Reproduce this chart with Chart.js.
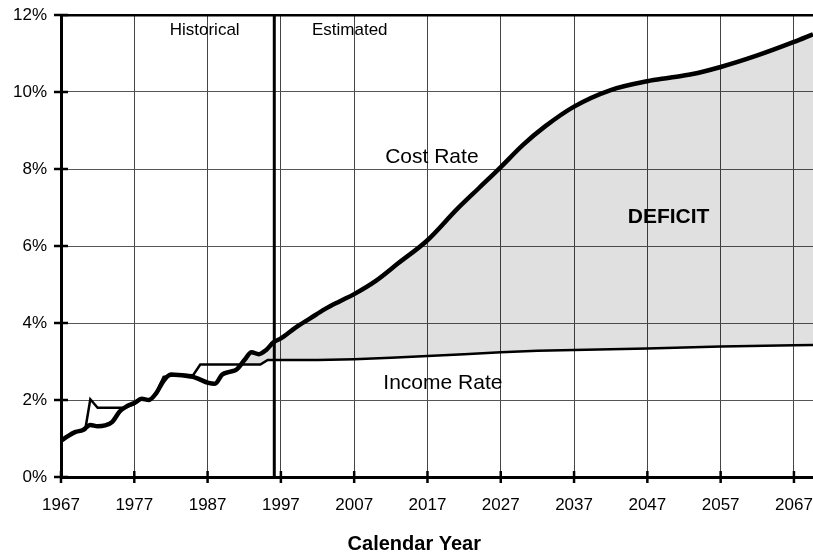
<!DOCTYPE html>
<html lang="en">
<head>
<meta charset="UTF-8" />
<title>Cost Rate and Income Rate</title>
<script src="https://cdn.jsdelivr.net/npm/chart.js@4.4.1/dist/chart.umd.min.js"></script>
<style>
  body { margin: 0; background: #fff; }
  #wrap { width: 813px; height: 554px; }
</style>
</head>
<body>
<div id="wrap"><canvas id="chart" width="813" height="554"></canvas></div>

<script>
// cost rate (thick line), % of taxable payroll
const costYears = [1967, 1968, 1969, 1970, 1971, 1972, 1973, 1974, 1975, 1976,
  1977, 1978, 1979, 1980, 1981, 1982, 1983, 1984, 1985, 1986,
  1987, 1988, 1989, 1990, 1991, 1992, 1993, 1994, 1995, 1996,
  1997, 1999, 2001, 2003, 2005, 2007, 2010, 2013, 2017, 2021,
  2024, 2027, 2030, 2033, 2037, 2042, 2047, 2050, 2053, 2057,
  2062, 2067, 2069.6];
const costRates = [0.94, 1.07, 1.17, 1.22, 1.35, 1.32, 1.34, 1.43, 1.70, 1.84,
  1.92, 2.03, 2.00, 2.18, 2.50, 2.66, 2.65, 2.63, 2.60, 2.53,
  2.45, 2.42, 2.66, 2.73, 2.80, 3.03, 3.24, 3.19, 3.30, 3.50,
  3.60, 3.88, 4.12, 4.36, 4.56, 4.75, 5.10, 5.55, 6.15, 6.95,
  7.50, 8.05, 8.62, 9.10, 9.62, 10.05, 10.28, 10.37, 10.46, 10.65,
  10.95, 11.30, 11.50];

// income rate (thin line)
const incomeYears = [1967, 1968, 1969, 1970.3, 1971, 1972, 1975.8, 1977, 1978, 1979,
  1980, 1981, 1983, 1985, 1986, 1994.2, 1995.2, 1997, 2002, 2007,
  2012, 2017, 2022, 2027, 2032, 2037, 2047, 2057, 2067, 2069.6];
const incomeRates = [0.94, 1.07, 1.17, 1.22, 2.02, 1.80, 1.80, 1.90, 2.03, 2.00,
  2.18, 2.60, 2.66, 2.64, 2.92, 2.92, 3.04, 3.04, 3.04, 3.06,
  3.10, 3.14, 3.19, 3.24, 3.28, 3.30, 3.34, 3.39, 3.42, 3.43];

const yearTicks = [1967, 1977, 1987, 1997, 2007, 2017, 2027, 2037, 2047, 2057, 2067];
const rateTicks = [0, 2, 4, 6, 8, 10, 12];
const dividerYear = 1996.1;

// text notes inside the plot, placed in data units
const noteTexts = ['Historical', 'Estimated', 'Cost Rate', 'Income Rate', 'DEFICIT'];
const noteYears = [1986.6, 2006.4, 2017.6, 2019.1, 2049.9];
const noteRates = [11.6, 11.6, 8.31, 2.44, 6.76];
const noteFonts = ['17px', '17px', '21px', '21px', 'bold 21px'];

const FONT = "'Liberation Sans', Arial, sans-serif";

const extras = {
  id: 'extras',
  afterDatasetsDraw(chart) {
    const ctx = chart.ctx;
    const a = chart.chartArea;
    const x = chart.scales.x;
    const y = chart.scales.y;
    ctx.save();
    ctx.strokeStyle = '#000';

    // historical / estimated divider
    const dx = x.getPixelForValue(dividerYear);
    ctx.lineWidth = 3;
    ctx.beginPath();
    ctx.moveTo(dx, a.top);
    ctx.lineTo(dx, a.bottom);
    ctx.stroke();

    // tick marks crossing the axes
    ctx.lineWidth = 2.5;
    yearTicks.forEach(v => {
      const px = x.getPixelForValue(v);
      ctx.beginPath();
      ctx.moveTo(px, a.bottom - 6);
      ctx.lineTo(px, a.bottom + 6);
      ctx.stroke();
    });
    rateTicks.forEach(v => {
      const py = y.getPixelForValue(v);
      ctx.beginPath();
      ctx.moveTo(a.left - 7, py);
      ctx.lineTo(a.left + 7, py);
      ctx.stroke();
    });

    ctx.fillStyle = '#000';
    ctx.textAlign = 'center';
    ctx.textBaseline = 'middle';
    noteTexts.forEach((t, i) => {
      ctx.font = noteFonts[i] + ' ' + FONT;
      ctx.fillText(t, x.getPixelForValue(noteYears[i]), y.getPixelForValue(noteRates[i]));
    });

    ctx.font = 'bold 20px ' + FONT;
    ctx.fillText('Calendar Year', x.getPixelForValue(2015.2), a.bottom + 67);
    ctx.restore();
  }
};

const ctx = document.getElementById('chart').getContext('2d');
new Chart(ctx, {
  type: 'line',
  data: {
    datasets: [{
      label: 'Cost Rate',
      data: costYears.map((v, i) => ({x: v, y: costRates[i]})),
      borderColor: '#000',
      borderWidth: 4.5,
      pointRadius: 0,
      cubicInterpolationMode: 'monotone',
      fill: {target: 1, above: 'rgba(0,0,0,0.12)', below: 'rgba(0,0,0,0)'}
    }, {
      label: 'Income Rate',
      data: incomeYears.map((v, i) => ({x: v, y: incomeRates[i]})),
      borderColor: '#000',
      borderWidth: 2.5,
      pointRadius: 0,
      tension: 0,
      fill: false
    }]
  },
  options: {
    responsive: false,
    animation: false,
    layout: {padding: {top: 15, right: 0, left: 0, bottom: 0}},
    plugins: {legend: {display: false}, tooltip: {enabled: false}},
    scales: {
      x: {
        type: 'linear',
        min: 1967,
        max: 2069.6,
        afterBuildTicks: s => { s.ticks = yearTicks.map(v => ({value: v})); },
        afterFit: s => { s.height = 77; s.paddingLeft = 0; s.paddingRight = 0; },
        ticks: {color: '#000', padding: 18, maxRotation: 0, callback: v => String(v),
          font: {family: FONT, size: 17}},
        grid: {color: '#444', lineWidth: 1, drawTicks: false},
        border: {color: '#000', width: 3}
      },
      y: {
        min: 0,
        max: 12,
        afterBuildTicks: s => { s.ticks = rateTicks.map(v => ({value: v})); },
        afterFit: s => { s.width = 61; s.paddingTop = 0; s.paddingBottom = 0; },
        ticks: {color: '#000', padding: 14, callback: v => v + '%', font: {family: FONT, size: 17}},
        grid: {
          color: c => c.tick && c.tick.value === 12 ? '#000' : '#555',
          lineWidth: c => c.tick && c.tick.value === 12 ? 2.5 : 1,
          drawTicks: false
        },
        border: {color: '#000', width: 3}
      }
    }
  },
  plugins: [extras]
});
</script>
</body>
</html>
